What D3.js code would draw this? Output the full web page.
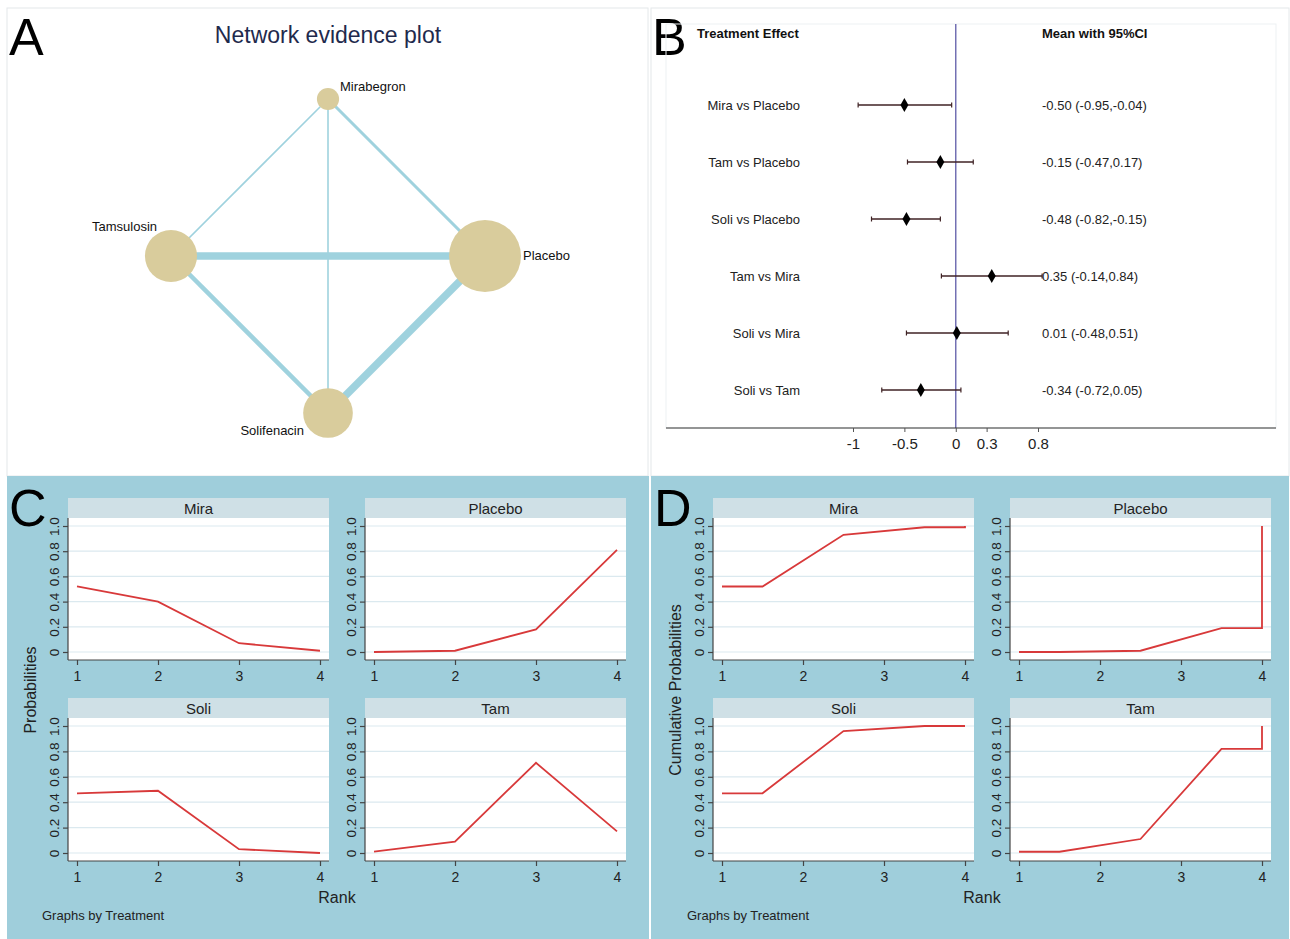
<!DOCTYPE html>
<html>
<head>
<meta charset="utf-8">
<script src="https://cdn.jsdelivr.net/npm/d3@7"></script>
<style>
  body { margin: 0; background: #fff; }
  svg { display: block; font-family: "Liberation Sans", Arial, sans-serif; }
</style>
</head>
<body>
<svg id="fig" width="1290" height="939"></svg>
<script>
// ---- panel A: network
const treatments = ['Mirabegron', 'Placebo', 'Solifenacin', 'Tamsulosin'];
const nodeAngle = [-90, 0, 90, 180];         // diamond layout
const nodeSize = [2, 21, 10, 11];            // relative node weight
const edges = [
  ['Mirabegron', 'Tamsulosin', 1],
  ['Mirabegron', 'Placebo', 2],
  ['Mirabegron', 'Solifenacin', 1],
  ['Tamsulosin', 'Placebo', 5],
  ['Tamsulosin', 'Solifenacin', 3],
  ['Placebo', 'Solifenacin', 5],
];

// ---- panel B: forest plot
const comparisons = ['Mira vs Placebo', 'Tam vs Placebo', 'Soli vs Placebo', 'Tam vs Mira', 'Soli vs Mira', 'Soli vs Tam'];
const means = [-0.50, -0.15, -0.48, 0.35, 0.01, -0.34];
const lower = [-0.95, -0.47, -0.82, -0.14, -0.48, -0.72];
const upper = [-0.04, 0.17, -0.15, 0.84, 0.51, 0.05];
const forestTicks = [-1, -0.5, 0, 0.3, 0.8];

// ---- panels C and D: rank probabilities
const facets = ['Mira', 'Placebo', 'Soli', 'Tam'];
const ranks = [1, 2, 3, 4];
const probMira = [0.52, 0.40, 0.07, 0.01];
const probPlacebo = [0.00, 0.01, 0.18, 0.81];
const probSoli = [0.47, 0.49, 0.03, 0.00];
const probTam = [0.01, 0.09, 0.71, 0.17];
const cumX = [1, 1.5, 2.5, 3.5, 4, 4];
const cumMira = [0.52, 0.52, 0.93, 0.99, 0.99, 1.00];
const cumPlacebo = [0.00, 0.00, 0.01, 0.19, 0.19, 1.00];
const cumSoli = [0.47, 0.47, 0.96, 1.00, 1.00, 1.00];
const cumTam = [0.01, 0.01, 0.11, 0.82, 0.82, 1.00];
const probTicks = [0, 0.2, 0.4, 0.6, 0.8, 1.0];

const svg = d3.select('#fig');
const blue = '#9fcedb';
const fontFam = '"Liberation Sans", Arial, sans-serif';

// backgrounds
svg.append('rect').attr('x', 7).attr('y', 8).attr('width', 641).attr('height', 468)
  .attr('fill', '#fff').attr('stroke', '#e4e8ea');
svg.append('rect').attr('x', 651).attr('y', 8).attr('width', 638).attr('height', 468)
  .attr('fill', '#fff').attr('stroke', '#e4e8ea');
svg.append('rect').attr('x', 7).attr('y', 476).attr('width', 642).attr('height', 463).attr('fill', blue);
svg.append('rect').attr('x', 651).attr('y', 476).attr('width', 638).attr('height', 463).attr('fill', blue);

function bigLetter(t, x, y) {
  svg.append('text').attr('x', x).attr('y', y).text(t)
    .attr('font-size', 52).attr('fill', '#000');
}

// ================= A =================
bigLetter('A', 9, 55);
svg.append('text').attr('x', 328).attr('y', 43).attr('text-anchor', 'middle')
  .attr('font-size', 23).attr('fill', '#1f2a4d').text('Network evidence plot');

const ang = d3.scaleLinear().domain([0, 360]).range([0, 2 * Math.PI]);
const cx = 328, cy = 256, R = 157;
const pos = {};
treatments.forEach((t, i) => {
  pos[t] = { x: cx + R * Math.cos(ang(nodeAngle[i])), y: cy + R * Math.sin(ang(nodeAngle[i])) };
});
const rScale = d3.scaleSqrt().domain([0, d3.max(nodeSize)]).range([0, 36]);
const wScale = d3.scaleLinear().domain([1, 5]).range([1.6, 7.5]);

svg.append('g').selectAll('line').data(edges).enter().append('line')
  .attr('x1', (d) => pos[d[0]].x).attr('y1', (d) => pos[d[0]].y)
  .attr('x2', (d) => pos[d[1]].x).attr('y2', (d) => pos[d[1]].y)
  .attr('stroke', '#9fd2de').attr('stroke-width', (d) => wScale(d[2]));

svg.append('g').selectAll('circle').data(treatments).enter().append('circle')
  .attr('cx', (d) => pos[d].x).attr('cy', (d) => pos[d].y)
  .attr('r', (d, i) => rScale(nodeSize[i]))
  .attr('fill', '#d9cc9c');

// label placement per node: [dx, dy, anchor]
const labelPlace = {
  Mirabegron: [12, -8, 'start'],
  Placebo: [38, 4, 'start'],
  Solifenacin: [-24, 22, 'end'],
  Tamsulosin: [-14, -25, 'end'],
};
svg.append('g').selectAll('text').data(treatments).enter().append('text')
  .attr('x', (d) => pos[d].x + labelPlace[d][0])
  .attr('y', (d) => pos[d].y + labelPlace[d][1])
  .attr('text-anchor', (d) => labelPlace[d][2])
  .attr('font-size', 13).attr('fill', '#111').text((d) => d);

// ================= B =================
bigLetter('B', 652, 55);
svg.append('text').attr('x', 697).attr('y', 38).attr('font-size', 13)
  .attr('font-weight', 'bold').attr('fill', '#111').text('Treatment Effect');
svg.append('text').attr('x', 1042).attr('y', 38).attr('font-size', 13)
  .attr('font-weight', 'bold').attr('fill', '#111').text('Mean with 95%CI');

svg.append('rect').attr('x', 666).attr('y', 24).attr('width', 610).attr('height', 404)
  .attr('fill', 'none').attr('stroke', '#edf1f3');

const fx = d3.scaleLinear().domain([-1, 0.8]).range([853, 1038]);
const fy = d3.scalePoint().domain(comparisons).range([105, 390]);

svg.append('line').attr('x1', fx(0)).attr('x2', fx(0)).attr('y1', 24).attr('y2', 428)
  .attr('stroke', '#5f5ca8').attr('stroke-width', 1.3);
svg.append('line').attr('x1', 666).attr('x2', 1276).attr('y1', 428).attr('y2', 428)
  .attr('stroke', '#333').attr('stroke-width', 1.2);

const fAxis = svg.append('g').attr('transform', 'translate(0,428)')
  .call(d3.axisBottom(fx).tickValues(forestTicks).tickSize(4).tickFormat((d) => d));
fAxis.select('.domain').remove();
fAxis.selectAll('line').attr('stroke', '#555');
fAxis.selectAll('text').attr('font-size', 15).attr('fill', '#222')
  .attr('font-family', fontFam).attr('dy', '0.9em');

const rows = svg.append('g').selectAll('g').data(comparisons).enter().append('g')
  .attr('transform', (d) => `translate(0,${fy(d)})`);
rows.append('text').attr('x', 800).attr('y', 4.5).attr('text-anchor', 'end')
  .attr('font-size', 13).attr('fill', '#222').text((d) => d);
rows.append('line').attr('x1', (d, i) => fx(lower[i])).attr('x2', (d, i) => fx(upper[i]))
  .attr('stroke', '#3f2224').attr('stroke-width', 1.5);
rows.append('line').attr('x1', (d, i) => fx(lower[i])).attr('x2', (d, i) => fx(lower[i]))
  .attr('y1', -2.5).attr('y2', 2.5).attr('stroke', '#3f2224').attr('stroke-width', 1.2);
rows.append('line').attr('x1', (d, i) => fx(upper[i])).attr('x2', (d, i) => fx(upper[i]))
  .attr('y1', -2.5).attr('y2', 2.5).attr('stroke', '#3f2224').attr('stroke-width', 1.2);
rows.append('path').attr('d', d3.symbol(d3.symbolDiamond, 55))
  .attr('transform', (d, i) => `translate(${fx(means[i])},0)`).attr('fill', '#000');
rows.append('text').attr('x', 1042).attr('y', 4.5).attr('font-size', 13).attr('fill', '#222')
  .text((d, i) => `${means[i].toFixed(2)} (${lower[i].toFixed(2)},${upper[i].toFixed(2)})`);

// ================= C / D =================
function facetPanel(ox, letter, yLabel, xs, series) {
  const g = svg.append('g').attr('transform', `translate(${ox},475)`);
  svg.append('text').attr('x', ox + 2).attr('y', 526).text(letter)
    .attr('font-size', 52).attr('fill', '#000');
  facets.forEach((name, k) => {
    const col = k % 2, row = Math.floor(k / 2);
    const left = 61 + col * 297, top = 23 + row * 200;
    const w = 261, plotTop = top + 20, axisY = top + 162 + row * 1;
    const x = d3.scaleLinear().domain([1, 4]).range([left + 9, left + 252]);
    const y = d3.scaleLinear().domain([0, 1]).range([axisY - 8, plotTop + 8]);
    const f = g.append('g');
    f.append('rect').attr('x', left).attr('y', top).attr('width', w).attr('height', 20).attr('fill', '#cfe0e6');
    f.append('text').attr('x', left + w / 2).attr('y', top + 15.5).attr('text-anchor', 'middle')
      .attr('font-size', 15).attr('fill', '#222').text(name);
    f.append('rect').attr('x', left).attr('y', plotTop).attr('width', w).attr('height', axisY - plotTop).attr('fill', '#fff');
    f.selectAll('.grid').data(probTicks).enter().append('line')
      .attr('x1', left).attr('x2', left + w).attr('y1', (d) => y(d)).attr('y2', (d) => y(d))
      .attr('stroke', '#dbe9ef').attr('stroke-width', 1.2);

    const ya = f.append('g').attr('transform', `translate(${left},0)`)
      .call(d3.axisLeft(y).tickValues(probTicks).tickSize(5).tickFormat((d) => (d === 0 ? '0' : d3.format('.1f')(d))));
    ya.select('.domain').attr('d', `M0,${plotTop}V${axisY}`);
    ya.selectAll('text').attr('transform', 'rotate(-90)').attr('text-anchor', 'middle')
      .attr('x', 0).attr('y', -9).attr('dy', '0').attr('font-size', 13.5)
      .attr('fill', '#222').attr('font-family', fontFam);
    const xa = f.append('g').attr('transform', `translate(0,${axisY})`)
      .call(d3.axisBottom(x).tickValues(ranks).tickSize(5).tickFormat(d3.format('d')));
    xa.select('.domain').attr('d', `M${left},0H${left + w}`);
    xa.selectAll('text').attr('font-size', 14).attr('fill', '#222').attr('dy', '0.9em')
      .attr('font-family', fontFam);
    f.selectAll('.domain, .tick line').attr('stroke', '#444').attr('stroke-width', 1.2);

    const vals = series[k];
    const line = d3.line().x((d, i) => x(xs[i])).y((d) => y(d));
    f.append('path').datum(vals).attr('d', line).attr('fill', 'none')
      .attr('stroke', '#d8393a').attr('stroke-width', 1.8);
  });
  g.append('text').attr('x', 330).attr('y', 428).attr('text-anchor', 'middle')
    .attr('font-size', 16).attr('fill', '#222').text('Rank');
  g.append('text').attr('x', 35).attr('y', 445).attr('font-size', 13)
    .attr('fill', '#222').text('Graphs by Treatment');
  g.append('text').attr('transform', `translate(${yLabel[1]},215) rotate(-90)`)
    .attr('text-anchor', 'middle').attr('font-size', 16).attr('fill', '#222').text(yLabel[0]);
}

facetPanel(7, 'C', ['Probabilities', 29], ranks, [probMira, probPlacebo, probSoli, probTam]);
facetPanel(652, 'D', ['Cumulative Probabilities', 29], cumX, [cumMira, cumPlacebo, cumSoli, cumTam]);
</script>
</body>
</html>
